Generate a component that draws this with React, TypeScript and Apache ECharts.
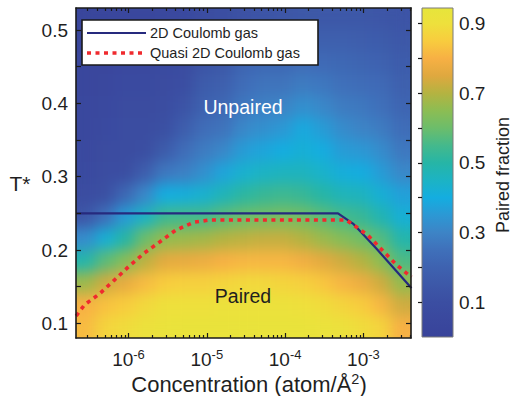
import React, { useEffect, useRef } from 'react';
import * as echarts from 'echarts';

const FONT = '"Liberation Sans", Arial, Helvetica, sans-serif';
const TEXT = '#1f1f1f';

// axis ranges (x in log10 of concentration)
const X_MIN = -6.67;
const X_MAX = -2.393;
const T_MIN = 0.08;
const T_MAX = 0.53;
const CB_MAX = 0.945;

// heat-map cell centres
const logConcCenters = [-6.544, -6.293, -6.041, -5.79, -5.538, -5.286, -5.035, -4.783, -4.532, -4.28, -4.028, -3.777, -3.525, -3.274, -3.022, -2.77, -2.519];
// T* rows, top to bottom
const tCenters = [0.515, 0.485, 0.455, 0.425, 0.395, 0.365, 0.335, 0.305, 0.275, 0.245, 0.215, 0.185, 0.155, 0.125, 0.095];
// paired fraction, one row per T* value (top to bottom), one column per concentration
const pairedFraction = [
  [0.03, 0.03, 0.04, 0.04, 0.05, 0.06, 0.09, 0.10, 0.12, 0.13, 0.14, 0.15, 0.15, 0.15, 0.15, 0.14, 0.13],
  [0.03, 0.04, 0.05, 0.05, 0.06, 0.07, 0.10, 0.12, 0.16, 0.17, 0.18, 0.20, 0.19, 0.19, 0.18, 0.17, 0.15],
  [0.04, 0.04, 0.06, 0.06, 0.07, 0.08, 0.13, 0.15, 0.21, 0.22, 0.22, 0.24, 0.23, 0.22, 0.21, 0.20, 0.17],
  [0.04, 0.05, 0.07, 0.07, 0.08, 0.10, 0.17, 0.19, 0.24, 0.26, 0.26, 0.28, 0.27, 0.25, 0.24, 0.23, 0.19],
  [0.05, 0.06, 0.08, 0.08, 0.09, 0.13, 0.20, 0.22, 0.27, 0.29, 0.30, 0.33, 0.31, 0.28, 0.27, 0.25, 0.21],
  [0.05, 0.07, 0.09, 0.09, 0.11, 0.18, 0.24, 0.26, 0.31, 0.33, 0.35, 0.39, 0.36, 0.32, 0.30, 0.28, 0.24],
  [0.06, 0.08, 0.09, 0.10, 0.17, 0.24, 0.28, 0.31, 0.36, 0.38, 0.40, 0.42, 0.40, 0.36, 0.35, 0.32, 0.27],
  [0.07, 0.09, 0.10, 0.18, 0.27, 0.29, 0.33, 0.38, 0.43, 0.45, 0.46, 0.46, 0.44, 0.41, 0.40, 0.36, 0.31],
  [0.09, 0.11, 0.22, 0.31, 0.40, 0.41, 0.43, 0.47, 0.51, 0.53, 0.54, 0.53, 0.50, 0.47, 0.46, 0.42, 0.37],
  [0.14, 0.25, 0.36, 0.45, 0.54, 0.55, 0.55, 0.58, 0.60, 0.61, 0.62, 0.61, 0.58, 0.55, 0.53, 0.48, 0.42],
  [0.32, 0.42, 0.50, 0.60, 0.66, 0.67, 0.68, 0.70, 0.71, 0.72, 0.72, 0.70, 0.67, 0.64, 0.61, 0.57, 0.49],
  [0.49, 0.58, 0.64, 0.71, 0.76, 0.77, 0.78, 0.80, 0.81, 0.81, 0.81, 0.79, 0.76, 0.73, 0.70, 0.65, 0.56],
  [0.67, 0.73, 0.77, 0.82, 0.85, 0.86, 0.86, 0.87, 0.88, 0.88, 0.87, 0.86, 0.84, 0.81, 0.78, 0.73, 0.66],
  [0.80, 0.83, 0.85, 0.88, 0.90, 0.90, 0.90, 0.91, 0.91, 0.91, 0.91, 0.90, 0.89, 0.87, 0.85, 0.81, 0.73],
  [0.82, 0.87, 0.89, 0.91, 0.92, 0.93, 0.93, 0.93, 0.93, 0.93, 0.93, 0.93, 0.92, 0.91, 0.89, 0.87, 0.80],
];

// boundary curves
const coulomb2DConc = [2.15e-7, 4.73e-4, 7.35e-4, 1.46e-3, 3.81e-3, 4.1e-3];
const coulomb2DT = [0.25, 0.25, 0.236, 0.202, 0.152, 0.148];
const quasi2DConc = [2.15e-7, 2.73e-7, 4.24e-7, 6.6e-7, 1.02e-6, 1.6e-6, 2.5e-6, 4.0e-6, 6.9e-6, 1.1e-5, 6.0e-4, 7.4e-4, 1.14e-3, 1.77e-3, 2.62e-3, 4.1e-3];
const quasi2DT = [0.11, 0.125, 0.14, 0.159, 0.178, 0.196, 0.211, 0.227, 0.238, 0.241, 0.241, 0.2345, 0.22, 0.199, 0.18, 0.163];

// ticks
const xMajorExponents = [-6, -5, -4, -3];
const xMinorMultipliers = [2, 3, 4, 5, 6, 7, 8, 9];
const yTickValues = [0.1, 0.15, 0.2, 0.25, 0.3, 0.35, 0.4, 0.45, 0.5];
const yLabelValues = [0.1, 0.2, 0.3, 0.4, 0.5];
const cbTickValues = [0.1, 0.2, 0.3, 0.4, 0.5, 0.6, 0.7, 0.8, 0.9];
const cbLabelValues = [0.1, 0.3, 0.5, 0.7, 0.9];

// colour map (values 0, 0.05, ..., 0.95)
const colormapColors = [
  '#38439a', '#3a489e', '#3b4ea2', '#3d58a8', '#3e62b0', '#3f70ba', '#3d84c6', '#2c98d4', '#14ade0', '#1cb3c4',
  '#26b5a6', '#44b98c', '#6cbd6b', '#8cbd53', '#b4b341', '#dfa83f', '#f7b044', '#f8cc3e', '#eee03c', '#e6e53b',
];

const GRID = { left: 76, top: 8, width: 335, height: 330 };
const CB = { left: 422, top: 8, width: 31, height: 329 };

export default function App() {
  const ref = useRef<HTMLDivElement>(null);
  const heatRef = useRef<HTMLDivElement>(null);
  useEffect(() => {
    document.body.style.margin = '0';

    // ---- heat map (plot area only) ----
    const heat = echarts.init(heatRef.current!, null, { renderer: 'svg' });
    const heatData: number[][] = [];
    pairedFraction.forEach((row, r) => row.forEach((v, c) => heatData.push([c, tCenters.length - 1 - r, v])));
    heat.setOption({
      animation: false,
      grid: { left: 0, top: 0, right: 0, bottom: 0 },
      xAxis: { type: 'category', data: logConcCenters.map(String), show: false },
      yAxis: { type: 'category', data: tCenters.slice().reverse().map(String), show: false },
      visualMap: { type: 'continuous', min: 0, max: 0.95, show: false, inRange: { color: colormapColors } },
      series: [{ type: 'heatmap', data: heatData, emphasis: { disabled: true }, silent: true }],
    });

    // ---- axes, curves, colour bar, texts ----
    const chart = echarts.init(ref.current!, null, { renderer: 'svg' });

    const xMinorLogs: number[] = [];
    for (let e = -7; e <= -3; e++) {
      for (const m of xMinorMultipliers) {
        const v = Math.log10(m * Math.pow(10, e));
        if (v > X_MIN && v < X_MAX) xMinorLogs.push(v);
      }
    }

    const boxLine = { show: true, lineStyle: { color: '#1a1a1a', width: 1.6 } };
    const xAx = (position: string, ticks: number[], len: number, showLabel: boolean, showLine: boolean) => ({
      type: 'value', gridIndex: 0, position, min: X_MIN, max: X_MAX, z: 10,
      splitLine: { show: false },
      axisLine: showLine ? boxLine : { show: false },
      axisTick: { show: true, inside: true, length: len, customValues: ticks, lineStyle: { color: '#1a1a1a', width: 1.2 } },
      axisLabel: showLabel
        ? {
            show: true, customValues: xMajorExponents, margin: 10, color: TEXT, fontFamily: FONT, fontSize: 19,
            formatter: (v: number) => `10{sup|${Math.round(v)}}`,
            rich: { sup: { fontSize: 13, fontFamily: FONT, color: TEXT, padding: [0, 0, 9, 0] } },
          }
        : { show: false },
    });
    const yAx = (position: string, showLabel: boolean) => ({
      type: 'value', gridIndex: 0, position, min: T_MIN, max: T_MAX, z: 10,
      splitLine: { show: false },
      axisLine: boxLine,
      axisTick: { show: true, inside: true, length: 5, customValues: yTickValues, lineStyle: { color: '#1a1a1a', width: 1.2 } },
      axisLabel: showLabel
        ? { show: true, customValues: yLabelValues, margin: 8, color: TEXT, fontFamily: FONT, fontSize: 19, formatter: (v: number) => v.toFixed(1) }
        : { show: false },
    });

    const cbStops = colormapColors.map((color, i) => ({ offset: Math.min(1, (i * 0.05) / CB_MAX), color }));

    const option: any = {
      animation: false,
      grid: [
        { ...GRID, containLabel: false },
        { ...CB, containLabel: false },
      ],
      xAxis: [
        xAx('bottom', xMajorExponents, 5, true, true),
        xAx('bottom', xMinorLogs, 3, false, false),
        xAx('top', xMajorExponents, 5, false, true),
        xAx('top', xMinorLogs, 3, false, false),
        { type: 'value', gridIndex: 1, show: false, min: 0, max: 1 },
      ],
      yAxis: [
        yAx('left', true),
        yAx('right', false),
        {
          type: 'value', gridIndex: 1, position: 'right', min: 0, max: CB_MAX, z: 10,
          splitLine: { show: false },
          axisLine: { show: false },
          axisTick: { show: true, inside: true, length: 4, customValues: cbTickValues, lineStyle: { color: '#1a1a1a', width: 1.2 } },
          axisLabel: { show: true, customValues: cbLabelValues, margin: 6, color: TEXT, fontFamily: FONT, fontSize: 19, formatter: (v: number) => v.toFixed(1) },
        },
      ],
      series: [
        {
          name: '2D Coulomb gas', type: 'line', xAxisIndex: 0, yAxisIndex: 0, z: 5,
          symbol: 'none', silent: true,
          data: coulomb2DConc.map((c, i) => [Math.log10(c), coulomb2DT[i]]),
          lineStyle: { color: '#262a7e', width: 2.2 },
        },
        {
          name: 'Quasi 2D Coulomb gas', type: 'line', xAxisIndex: 0, yAxisIndex: 0, z: 6,
          symbol: 'none', silent: true,
          data: quasi2DConc.map((c, i) => [Math.log10(c), quasi2DT[i]]),
          lineStyle: { color: '#ef2a2e', width: 3.6, type: [4, 4.5], cap: 'butt' },
        },
      ],
      graphic: [
        {
          type: 'rect', z: 1, silent: true,
          shape: { x: CB.left, y: CB.top, width: CB.width, height: CB.height },
          style: { fill: new echarts.graphic.LinearGradient(0, 1, 0, 0, cbStops), stroke: '#7a7a7a', lineWidth: 1 },
        },
        // legend
        { type: 'rect', z: 20, shape: { x: 82, y: 20, width: 236, height: 45 }, style: { fill: '#ffffff', stroke: '#1a1a1a', lineWidth: 1.6 } },
        { type: 'line', z: 21, shape: { x1: 87, y1: 33, x2: 146, y2: 33 }, style: { stroke: '#262a7e', lineWidth: 2.2 } },
        { type: 'line', z: 21, shape: { x1: 87, y1: 53, x2: 146, y2: 53 }, style: { stroke: '#ef2a2e', lineWidth: 3.6, lineDash: [4, 4.5], lineCap: 'butt' } },
        { type: 'text', z: 21, x: 150, y: 33, style: { text: '2D Coulomb gas', fill: TEXT, font: `14.5px ${FONT}`, verticalAlign: 'middle', align: 'left' } },
        { type: 'text', z: 21, x: 150, y: 53, style: { text: 'Quasi 2D Coulomb gas', fill: TEXT, font: `14.5px ${FONT}`, verticalAlign: 'middle', align: 'left' } },
        // region labels
        { type: 'text', z: 21, x: 243, y: 107, style: { text: 'Unpaired', fill: '#ffffff', font: `19.5px ${FONT}`, align: 'center', verticalAlign: 'middle' } },
        { type: 'text', z: 21, x: 243, y: 296, style: { text: 'Paired', fill: TEXT, font: `19.5px ${FONT}`, align: 'center', verticalAlign: 'middle' } },
        // axis titles
        { type: 'text', z: 21, x: 20, y: 183, style: { text: 'T*', fill: TEXT, font: `21px ${FONT}`, align: 'center', verticalAlign: 'middle' } },
        {
          type: 'text', z: 21, x: 249, y: 384,
          style: {
            text: 'Concentration (atom/Å{sup|2})', fill: TEXT, font: `22px ${FONT}`, align: 'center', verticalAlign: 'middle',
            rich: { sup: { fontSize: 14.5, fontFamily: FONT, fill: TEXT, padding: [0, 0, 10, 0] } },
          },
        },
        { type: 'text', z: 21, x: 503, y: 175, rotation: Math.PI / 2, style: { text: 'Paired fraction', fill: TEXT, font: `18px ${FONT}`, align: 'center', verticalAlign: 'middle' } },
      ],
    };
    chart.setOption(option);
    return () => {
      chart.dispose();
      heat.dispose();
    };
  }, []);
  return (
    <div style={{ position: 'absolute', left: 0, top: 0, width: 513, height: 396 }}>
      <svg width="0" height="0" style={{ position: 'absolute' }}>
        <defs>
          <filter id="smoothField" x="0" y="0" width="1" height="1" colorInterpolationFilters="sRGB">
            <feGaussianBlur stdDeviation="7" />
            <feComponentTransfer>
              <feFuncA type="table" tableValues="1 1" />
            </feComponentTransfer>
          </filter>
        </defs>
      </svg>
      <div
        ref={heatRef}
        style={{ position: 'absolute', left: GRID.left, top: GRID.top, width: GRID.width, height: GRID.height, filter: 'url(#smoothField)' }}
      />
      <div ref={ref} style={{ position: 'absolute', left: 0, top: 0, width: 513, height: 396 }} />
    </div>
  );
}
